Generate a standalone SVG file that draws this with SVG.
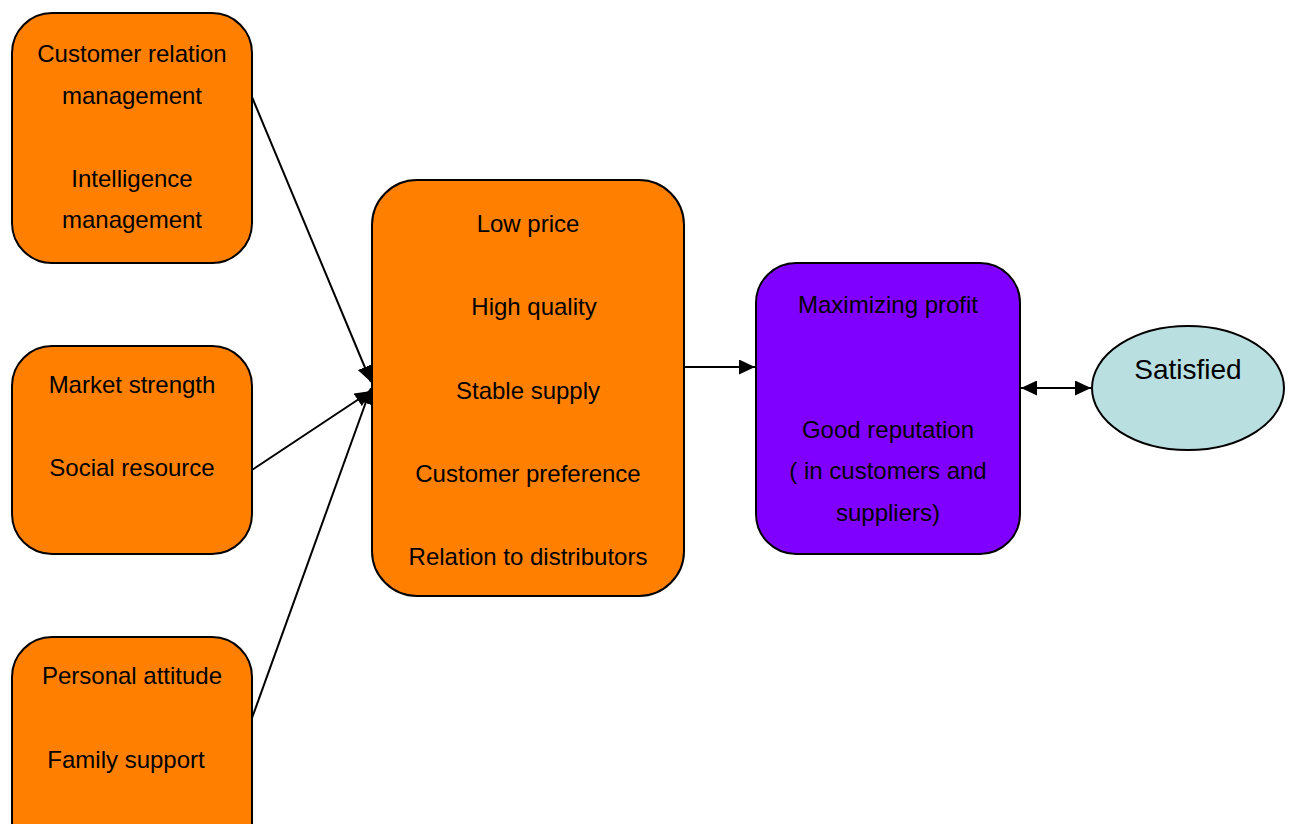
<svg xmlns="http://www.w3.org/2000/svg" width="1293" height="824" viewBox="0 0 1293 824">
<style>
.box{fill:#FF8000;stroke:#000;stroke-width:2}
.pbox{fill:#8000FF;stroke:#000;stroke-width:2}
.t{font-family:"Liberation Sans",Arial,sans-serif;font-size:24px;fill:#000;text-anchor:middle}
.c{stroke:#000;stroke-width:2;fill:none}
</style>
<defs>
<marker id="ahb" viewBox="0 0 10 10" refX="10" refY="5" markerWidth="16" markerHeight="15" orient="auto-start-reverse" markerUnits="userSpaceOnUse" preserveAspectRatio="none">
<path d="M0,0L10,5L0,10z" fill="#000"/>
</marker>
</defs>
<rect width="1293" height="824" fill="#fff"/>
<g id="connectors">
<line class="c" x1="252" y1="97" x2="371" y2="382" marker-end="url(#ahb)"/>
<line class="c" x1="252" y1="470" x2="371" y2="391" marker-end="url(#ahb)"/>
<line class="c" x1="252" y1="718" x2="371" y2="388" marker-end="url(#ahb)"/>
<line class="c" x1="684" y1="367" x2="755" y2="367" marker-end="url(#ahb)"/>
<line class="c" x1="1021" y1="388" x2="1091" y2="388" marker-start="url(#ahb)" marker-end="url(#ahb)"/>
</g>
<g id="n1">
<rect class="box" x="12" y="13" width="240" height="250" rx="40" ry="40"/>
<text class="t" x="132" y="62">Customer relation</text>
<text class="t" x="132" y="104">management</text>
<text class="t" x="132" y="187">Intelligence</text>
<text class="t" x="132" y="228">management</text>
</g>
<g id="n2">
<rect class="box" x="12" y="346" width="240" height="208" rx="40" ry="40"/>
<text class="t" x="132" y="393">Market strength</text>
<text class="t" x="132" y="476">Social resource</text>
</g>
<g id="n3">
<rect class="box" x="12" y="637" width="240" height="230" rx="40" ry="40"/>
<text class="t" x="132" y="684">Personal attitude</text>
<text class="t" x="126" y="768">Family support</text>
</g>
<g id="center">
<rect class="box" x="372" y="180" width="312" height="416" rx="45" ry="45"/>
<text class="t" x="528" y="232">Low price</text>
<text class="t" x="534" y="315">High quality</text>
<text class="t" x="528" y="399">Stable supply</text>
<text class="t" x="528" y="482">Customer preference</text>
<text class="t" x="528" y="565">Relation to distributors</text>
</g>
<g id="outcome">
<rect class="pbox" x="756" y="263" width="264" height="291" rx="40" ry="40"/>
<text class="t" x="888" y="313">Maximizing profit</text>
<text class="t" x="888" y="438">Good reputation</text>
<text class="t" x="888" y="479">( in customers and</text>
<text class="t" x="888" y="521">suppliers)</text>
</g>
<g id="satisfied">
<ellipse cx="1188" cy="388" rx="96" ry="62" fill="#BADFE0" stroke="#000" stroke-width="2"/>
<text class="t" x="1188" y="379" style="font-size:28px">Satisfied</text>
</g>
</svg>
